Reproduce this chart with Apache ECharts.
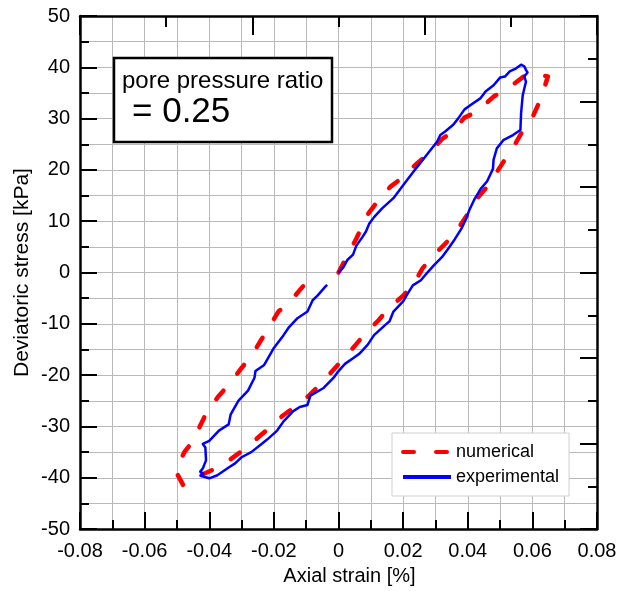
<!DOCTYPE html>
<html>
<head>
<meta charset="utf-8">
<script src="https://cdn.jsdelivr.net/npm/echarts/dist/echarts.min.js"></script>
<style>
html,body{margin:0;padding:0;background:#fff;}
#chart{width:630px;height:591px;}
</style>
</head>
<body>
<div id="chart"></div>
<script>
// ---- data ----
const seriesNames = ['numerical', 'experimental'];

const numStrain = [0, 0.003, 0.0055, 0.009, 0.012, 0.016, 0.020, 0.024, 0.0275, 0.032, 0.035, 0.039, 0.043, 0.048, 0.052, 0.0573, 0.0616, 0.0648,
  0.064, 0.0625, 0.060, 0.0573, 0.055, 0.052, 0.0486, 0.046, 0.042, 0.040, 0.036, 0.033, 0.029, 0.026, 0.023, 0.020, 0.0155, 0.0124, 0.0084, 0.0053, 0.0012, -0.0019, -0.006, -0.009, -0.014, -0.0173, -0.022, -0.025, -0.0297, -0.0334, -0.0387, -0.042, -0.048,
  -0.0505, -0.0477, -0.045, -0.0427, -0.0406, -0.037, -0.034, -0.030, -0.027, -0.024, -0.0217, -0.0186, -0.0155, -0.011, -0.0077, -0.0062];
const numStress = [0, 3.6, 6.6, 11.3, 13.8, 16.7, 18.6, 21.1, 23.0, 26.0, 27.3, 30.2, 31.4, 34.3, 35.7, 38.2, 38.6, 38.2,
  36.6, 33.7, 30.2, 27.9, 25.4, 22.5, 19.2, 16.7, 13.8, 11.4, 7.6, 5.6, 3.1, 0.8, -2.5, -4.5, -7.0, -9.3, -11.8, -14.1, -17.0, -19.2, -22.0, -23.9, -26.4, -27.9, -30.6, -32.2, -34.7, -36.4, -38.4, -39.3, -41.5,
  -38.6, -35.0, -32.8, -29.7, -27.0, -24.0, -21.9, -18.6, -16.3, -13.2, -10.9, -7.6, -6.0, -2.7, -0.8, 0.0];

const expStrain = [0, 0.0015, 0.0028, 0.0045, 0.0055, 0.0075, 0.0085, 0.0095, 0.011, 0.0135, 0.017, 0.020, 0.023, 0.0255, 0.028, 0.0305, 0.0315, 0.033, 0.0355, 0.037, 0.039, 0.041, 0.044, 0.0455, 0.048, 0.050, 0.0515, 0.053, 0.055, 0.0565, 0.0575, 0.058, 0.0585, 0.0575, 0.058, 0.057, 0.0565, 0.0563,
  0.054, 0.051, 0.049, 0.048, 0.0478, 0.046, 0.044, 0.042, 0.0405, 0.0395, 0.038, 0.036, 0.034, 0.032, 0.0295, 0.0275, 0.0255, 0.023, 0.0215, 0.020, 0.017, 0.0158, 0.0145, 0.011, 0.009, 0.0065, 0.0045, 0.002, 0.0, -0.0015, -0.0046, -0.0087, -0.0096, -0.012, -0.014, -0.017, -0.019, -0.022, -0.024, -0.027, -0.030, -0.032, -0.034, -0.0375, -0.040, -0.0427,
  -0.0418, -0.0428, -0.042, -0.041, -0.0412, -0.042, -0.040, -0.037, -0.034, -0.0334, -0.031, -0.028, -0.026, -0.0257, -0.023, -0.021, -0.020, -0.017, -0.0155, -0.0127, -0.0096, -0.008, -0.0065, -0.004, -0.0035];
const expStress = [0, 1.0, 2.5, 3.5, 5.2, 7.0, 8.0, 9.5, 10.8, 12.5, 14.5, 17.0, 19.5, 21.5, 23.5, 25.5, 26.8, 27.5, 28.8, 30.0, 31.8, 32.7, 34.0, 35.3, 36.5, 38.0, 38.2, 39.2, 39.8, 40.5, 40.2, 39.5, 39.0, 38.2, 37.2, 34.5, 31.0, 27.8,
  26.8, 25.8, 24.2, 22.0, 20.2, 17.8, 16.3, 14.2, 12.2, 10.5, 8.5, 6.5, 4.7, 3.0, 1.4, 0.0, -1.5, -2.5, -4.0, -5.6, -7.6, -9.5, -10.2, -12.2, -14.1, -15.8, -16.7, -17.8, -19.2, -20.5, -22.5, -24.0, -25.8, -26.2, -27.0, -29.0, -30.8, -32.5, -33.5, -35.0, -36.0, -37.2, -38.0, -39.5, -40.1, -39.6,
  -39.2, -38.8, -38.2, -36.6, -34.1, -33.4, -32.8, -30.8, -29.6, -27.7, -25.0, -23.0, -20.5, -19.2, -18.0, -15.8, -14.7, -12.2, -10.8, -8.9, -7.6, -5.4, -4.5, -2.7, -2.4];

const xTickLabels = ['-0.08', '-0.06', '-0.04', '-0.02', '0', '0.02', '0.04', '0.06', '0.08'];
const yTickLabels = ['-50', '-40', '-30', '-20', '-10', '0', '10', '20', '30', '40', '50'];
const xAxisTitle = 'Axial strain [%]';
const yAxisTitle = 'Deviatoric stress [kPa]';
const noteLine1 = 'pore pressure ratio';
const noteLine2 = '= 0.25';

// ---- chart ----
const FONT = 'Liberation Sans, Arial, sans-serif';
const GRID_COLOR = '#b9b9b9';
const zip = (a, b) => a.map((v, i) => [v, b[i]]);

const chart = echarts.init(document.getElementById('chart'), null, {renderer: 'canvas'});

const plainAxisCommon = {
  axisLine: {show: true, onZero: false, lineStyle: {color: '#000', width: 2.5}},
  axisTick: {show: true, inside: true, length: 17, lineStyle: {color: '#000', width: 2}},
  minorTick: {show: true, splitNumber: 2, length: 9, lineStyle: {color: '#000', width: 2}}
};

chart.setOption({
  animation: false,
  backgroundColor: '#fff',
  grid: {left: 80, top: 16, width: 517, height: 516, containLabel: false},
  xAxis: [
    Object.assign({}, plainAxisCommon, {
      type: 'value', position: 'bottom', min: -0.08, max: 0.08, interval: 0.02,
      name: xAxisTitle, nameLocation: 'middle', nameGap: 35,
      nameTextStyle: {fontFamily: FONT, fontSize: 20, color: '#000', padding: [0, 0, 0, 22]},
      axisLabel: {
        margin: 12, fontFamily: FONT, fontSize: 20, color: '#000',
        formatter: v => xTickLabels[Math.round((v + 0.08) / 0.02)]
      },
      splitLine: {show: true, lineStyle: {color: GRID_COLOR, width: 1}},
      minorSplitLine: {show: true, lineStyle: {color: GRID_COLOR, width: 1}}
    }),
    Object.assign({}, plainAxisCommon, {
      type: 'value', position: 'top', min: -0.08, max: 0.08, interval: 0.16 / 3,
      axisTick: {show: true, inside: true, length: 19, lineStyle: {color: '#000', width: 2}},
      minorTick: {show: true, splitNumber: 2, length: 11, lineStyle: {color: '#000', width: 2}},
      axisLabel: {show: false}, splitLine: {show: false}
    })
  ],
  yAxis: [
    Object.assign({}, plainAxisCommon, {
      type: 'value', position: 'left', min: -50, max: 50, interval: 10,
      name: yAxisTitle, nameLocation: 'middle', nameGap: 47, nameMoveOverlap: false,
      nameTextStyle: {fontFamily: FONT, fontSize: 21, color: '#000'},
      axisLabel: {
        margin: 10, fontFamily: FONT, fontSize: 20, color: '#000',
        formatter: v => yTickLabels[Math.round((v + 50) / 10)]
      },
      splitLine: {show: true, lineStyle: {color: GRID_COLOR, width: 1}},
      minorSplitLine: {show: true, lineStyle: {color: GRID_COLOR, width: 1}}
    }),
    Object.assign({}, plainAxisCommon, {
      type: 'value', position: 'right', min: -50, max: 50, interval: 50 / 3,
      axisLabel: {show: false}, splitLine: {show: false}
    })
  ],
  legend: {
    orient: 'vertical', left: 392, top: 433,
    padding: [10, 10, 10, 9],
    backgroundColor: '#fff', borderColor: '#cfcfcf', borderWidth: 1, borderRadius: 0,
    itemWidth: 48, itemHeight: 18, itemGap: 7,
    itemStyle: {opacity: 0, borderWidth: 0},
    lineStyle: {width: 4},
    textStyle: {fontFamily: FONT, fontSize: 18, color: '#000'},
    data: seriesNames
  },
  series: [
    {
      name: seriesNames[0], type: 'line', xAxisIndex: 0, yAxisIndex: 0,
      data: zip(numStrain, numStress), symbol: 'none', showSymbol: false, z: 3,
      lineStyle: {color: '#ff0000', width: 4.5, type: [11, 22], cap: 'round', join: 'round'},
      itemStyle: {color: '#ff0000'}
    },
    {
      name: seriesNames[1], type: 'line', xAxisIndex: 0, yAxisIndex: 0,
      data: zip(expStrain, expStress), symbol: 'none', showSymbol: false, z: 4,
      lineStyle: {color: '#0000ff', width: 2.5, join: 'round'},
      itemStyle: {color: '#0000ff'}
    }
  ],
  graphic: [
    {type: 'rect', z: 100, shape: {x: 114, y: 58, width: 218, height: 84},
     style: {fill: '#fff', stroke: '#000', lineWidth: 2.5}},
    {type: 'text', z: 101, x: 122, y: 81,
     style: {text: noteLine1, font: '24px ' + FONT, fill: '#000', verticalAlign: 'middle'}},
    {type: 'text', z: 101, x: 132, y: 112,
     style: {text: noteLine2, font: '35px ' + FONT, fill: '#000', verticalAlign: 'middle'}}
  ]
});
</script>
</body>
</html>
